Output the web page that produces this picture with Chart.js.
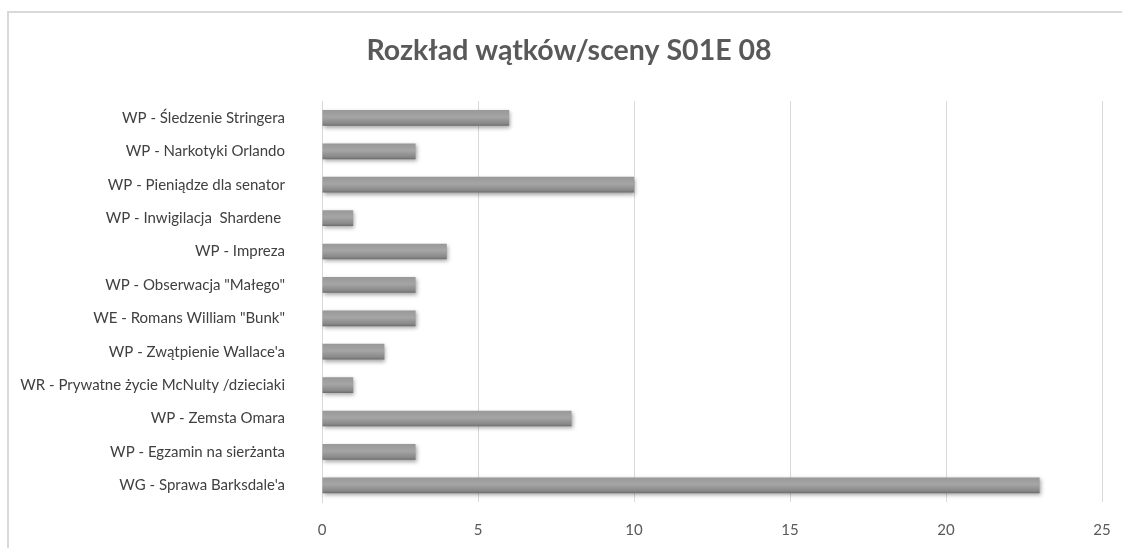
<!DOCTYPE html>
<html>
<head>
<meta charset="utf-8">
<script src="https://cdn.jsdelivr.net/npm/chart.js@4/dist/chart.umd.min.js"></script>
<style>
    html, body { margin: 0; padding: 0; background: #fff; }
    #wrap { position: relative; width: 1122px; height: 548px; }
    #frame { position: absolute; left: 7px; top: 11px; right: 0; bottom: 0;
             border-left: 2px solid #d9d9d9; border-top: 2px solid #d9d9d9; }
    canvas { position: absolute; left: 0; top: 0; }
</style>
</head>
<body>
<div id="wrap">
    <div id="frame"></div>
    <canvas id="chart" width="1122" height="548"></canvas>
</div>
<script>
// wątki (od góry do dołu)
let categories = [
    "WP - Śledzenie Stringera",
    "WP - Narkotyki Orlando",
    "WP - Pieniądze dla senator",
    "WP - Inwigilacja  Shardene ",
    "WP - Impreza",
    "WP - Obserwacja \"Małego\"",
    "WE - Romans William \"Bunk\"",
    "WP - Zwątpienie Wallace'a",
    "WR - Prywatne życie McNulty /dzieciaki",
    "WP - Zemsta Omara",
    "WP - Egzamin na sierżanta",
    "WG - Sprawa Barksdale'a"
];
let sceny = [6, 3, 10, 1, 4, 3, 3, 2, 1, 8, 3, 23];
let xTicks = [0, 5, 10, 15, 20, 25];
let chartTitle = "Rozkład wątków/sceny S01E 08";

// gradient dla każdego paska osobno
function barFill(context) {
    let chart = context.chart;
    let yScale = chart.scales.y;
    if (!yScale || yScale.top === undefined) return "#999";
    let yc = yScale.getPixelForValue(context.dataIndex);
    let g = chart.ctx.createLinearGradient(0, yc - 8, 0, yc + 8);
    g.addColorStop(0, "#989898");
    g.addColorStop(0.45, "#a5a5a5");
    g.addColorStop(0.85, "#888888");
    g.addColorStop(1, "#6a6a6a");
    return g;
}

// cień pod paskami
const shadowPlugin = {
    id: "barShadow",
    beforeDatasetDraw(chart) {
        let ctx = chart.ctx;
        ctx.save();
        ctx.shadowColor = "rgba(0,0,0,0.35)";
        ctx.shadowBlur = 4;
        ctx.shadowOffsetX = 1;
        ctx.shadowOffsetY = 2;
    },
    afterDatasetDraw(chart) {
        chart.ctx.restore();
    }
};

let chart = new Chart(document.getElementById("chart"), {
    type: "bar",
    data: {
        labels: categories,
        datasets: [{
            data: sceny,
            backgroundColor: barFill,
            borderWidth: 0,
            barPercentage: 0.47,
            categoryPercentage: 1
        }]
    },
    plugins: [shadowPlugin],
    options: {
        indexAxis: "y",
        responsive: false,
        animation: false,
        layout: { padding: { left: 8, right: 20, top: 34, bottom: 0 } },
        plugins: {
            legend: { display: false },
            tooltip: { enabled: false },
            title: {
                display: true,
                text: chartTitle,
                color: "#595959",
                font: { family: "Lato", size: 28.5, weight: "bold" },
                padding: { top: 0, bottom: 33 }
            }
        },
        scales: {
            x: {
                min: 0,
                max: 25,
                afterBuildTicks: axis => { axis.ticks = xTicks.map(v => ({ value: v })); },
                afterFit: axis => {
                    axis.height = 42;
                    axis.paddingLeft = 0;
                    axis.paddingRight = 0;
                },
                grid: { color: "#d9d9d9", lineWidth: 1, drawTicks: false },
                border: { display: false },
                ticks: {
                    color: "#595959",
                    font: { family: "Lato", size: 15 },
                    padding: 19
                }
            },
            y: {
                grid: { display: false, drawTicks: false },
                border: { display: true, color: "#d9d9d9", width: 1 },
                afterFit: axis => { axis.width = 314; },
                ticks: {
                    color: "#404040",
                    font: { family: "Lato", size: 15 },
                    padding: 37
                }
            }
        }
    }
});

// tytuł lekko w prawo, jak w oryginale
let titleDraw = chart.titleBlock.draw.bind(chart.titleBlock);
chart.titleBlock.draw = function () {
    chart.ctx.save();
    chart.ctx.translate(14, 0);
    titleDraw();
    chart.ctx.restore();
};
chart.draw();
</script>
</body>
</html>
